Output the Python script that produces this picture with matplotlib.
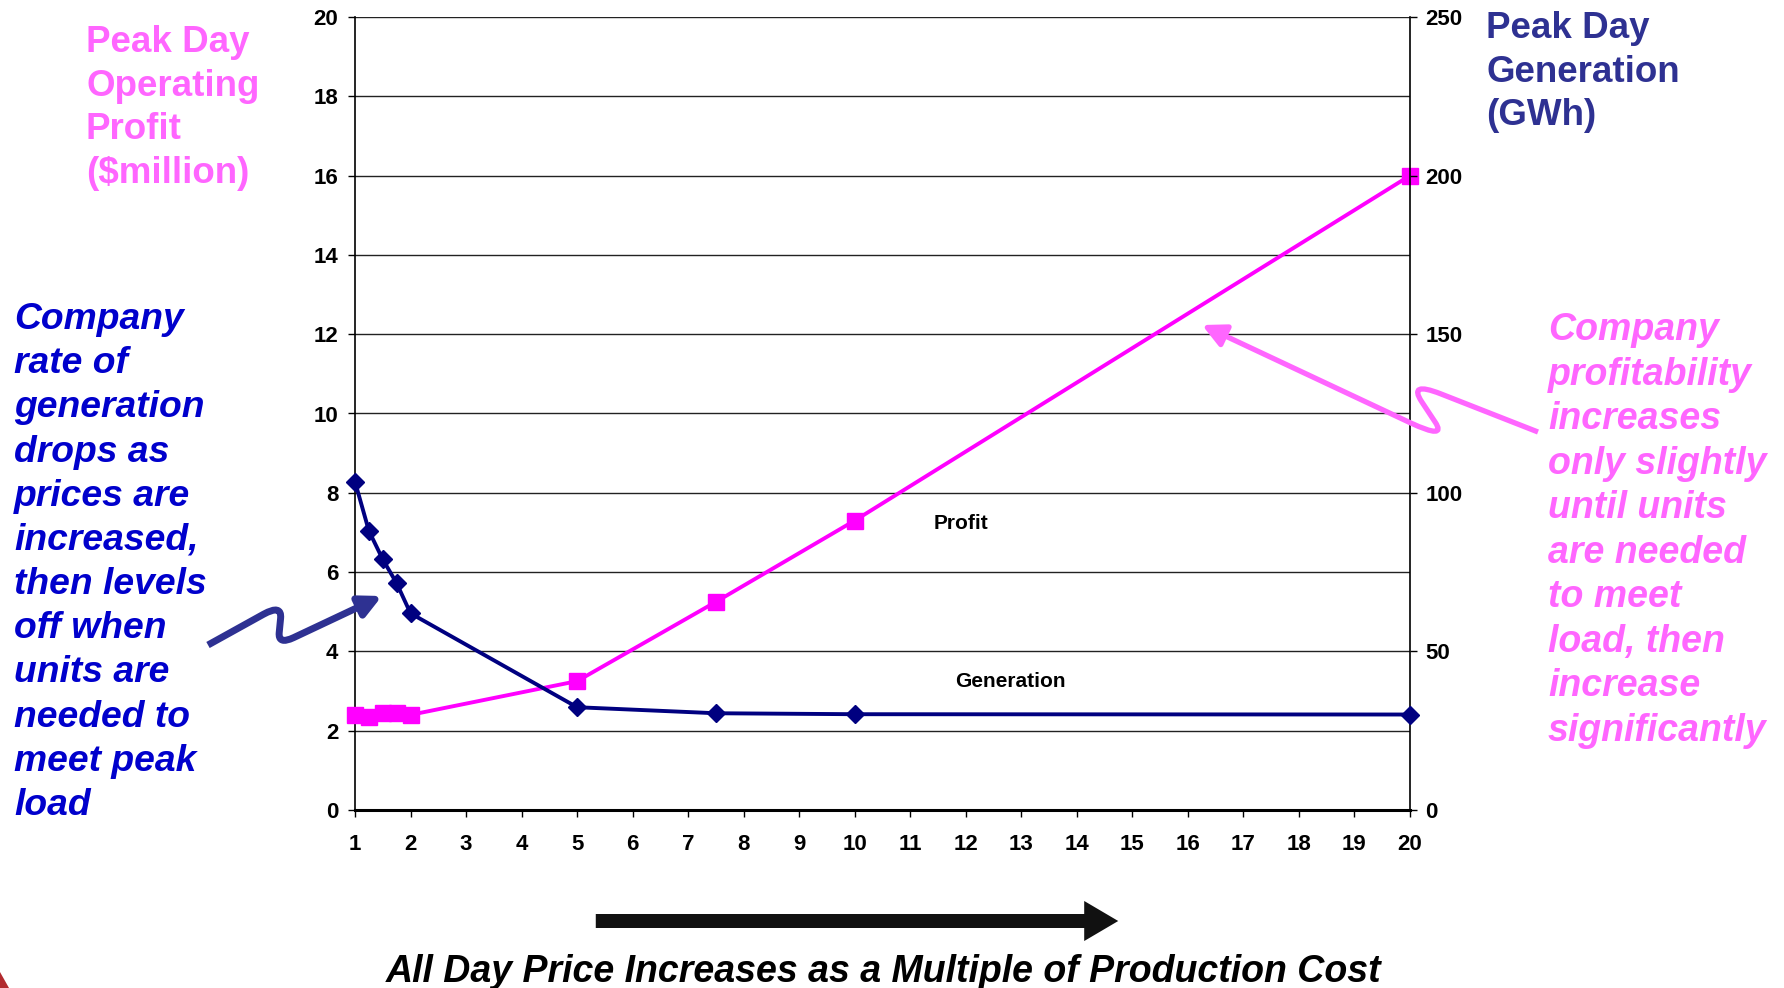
import matplotlib
matplotlib.use("Agg")
import matplotlib.pyplot as plt
from matplotlib.path import Path
from matplotlib.patches import FancyArrowPatch, Polygon
import matplotlib.transforms as mtransforms

# Data
price_multiple = [1, 1.25, 1.5, 1.75, 2, 5, 7.5, 10, 20]
profit = [2.4, 2.35, 2.45, 2.45, 2.4, 3.25, 5.25, 7.3, 16.0]          # $million (left axis)
generation = [103.5, 88, 79, 71.5, 62, 32.4, 30.5, 30.2, 30.1]      # GWh (right axis)

x_ticks = list(range(1, 21))
profit_ticks = list(range(0, 21, 2))
gen_ticks = list(range(0, 251, 50))

W, H = 1784, 988
PINK = '#FF00FF'
PINK_TEXT = '#FF66FF'
NAVY = '#000080'
BLUE_TEXT = '#0000CC'
DARK_BLUE = '#2E3192'

plt.rcParams['font.family'] = ['Liberation Sans', 'DejaVu Sans']

fig = plt.figure(figsize=(W / 100, H / 100), dpi=100)
ax = fig.add_axes([355 / W, 1 - 810 / H, (1410 - 355) / W, (810 - 17) / H])
ax2 = ax.twinx()

# pixel coords (top-left origin) -> figure coords
pix = mtransforms.Affine2D().scale(1 / W, -1 / H).translate(0, 1) + fig.transFigure

# Profit on left axis
ax.plot(price_multiple, profit, color=PINK, lw=2.8, marker='s', markersize=11,
        markerfacecolor=PINK, markeredgecolor=PINK, zorder=3, clip_on=False)
ax.set_xlim(1, 20)
ax.set_ylim(0, 20)
ax.set_xticks(x_ticks)
ax.set_yticks(profit_ticks)
ax.grid(True, axis='y', color='#222222', lw=1.0)
ax.set_axisbelow(True)
for s in ['top', 'right']:
    ax.spines[s].set_visible(False)
ax.spines['left'].set_linewidth(1.2)
ax.spines['bottom'].set_linewidth(2.2)
ax.tick_params(axis='y', direction='out', length=5, width=1, pad=7, labelsize=16)
ax.tick_params(axis='x', direction='out', length=5, width=1, pad=12, labelsize=16)
for lab in ax.get_xticklabels() + ax.get_yticklabels():
    lab.set_fontweight('bold')

# Generation on right axis
ax2.plot(price_multiple, generation, color=NAVY, lw=2.8, marker='D', markersize=9.5,
         markerfacecolor=NAVY, markeredgecolor=NAVY, zorder=3, clip_on=False)
ax2.set_ylim(0, 250)
ax2.set_yticks(gen_ticks)
for s in ['top', 'left', 'bottom']:
    ax2.spines[s].set_visible(False)
ax2.spines['right'].set_linewidth(1.2)
ax2.tick_params(axis='y', direction='out', length=5, width=1, pad=6, labelsize=16)
for lab in ax2.get_yticklabels():
    lab.set_fontweight('bold')

# Series labels inside the plot
ax.text(11.92, 7.22, 'Profit', fontsize=15, fontweight='bold', ha='center', va='center')
ax.text(12.8, 3.25, 'Generation', fontsize=15, fontweight='bold', ha='center', va='center')

# Axis titles
fig.text(86, 25, 'Peak Day\nOperating\nProfit\n($million)', transform=pix, color=PINK_TEXT,
         fontsize=26.5, fontweight='bold', ha='left', va='top', linespacing=1.32)
fig.text(1486, 11, 'Peak Day\nGeneration\n(GWh)', transform=pix, color=DARK_BLUE,
         fontsize=26.5, fontweight='bold', ha='left', va='top', linespacing=1.32)

# Side annotations
fig.text(14, 302, 'Company\nrate of\ngeneration\ndrops as\nprices are\nincreased,\nthen levels\n'
         'off when\nunits are\nneeded to\nmeet peak\nload', transform=pix, color=BLUE_TEXT,
         fontsize=26.8, fontweight='bold', style='italic', ha='left', va='top', linespacing=1.34)
fig.text(1548, 312, 'Company\nprofitability\nincreases\nonly slightly\nuntil units\nare needed\n'
         'to meet\nload, then\nincrease\nsignificantly', transform=pix, color=PINK_TEXT,
         fontsize=27, fontweight='bold', style='italic', ha='left', va='top', linespacing=1.305)

# Bottom caption with arrow
fig.text(884, 972, 'All Day Price Increases as a Multiple of Production Cost', transform=pix,
         fontsize=27, fontweight='bold', style='italic', ha='center', va='center')
big = FancyArrowPatch((593, 921), (1121, 921), transform=pix,
                      arrowstyle='simple,head_length=1.75,head_width=2.06,tail_width=0.72',
                      mutation_scale=14, color='#111111', lw=0)
fig.add_artist(big)


def squiggle(a, b, c, d, color, lw, head):
    # lightning-bolt shaped arrow with rounded corners, pixel coords
    def towards(p, q, f):
        return (p[0] + (q[0] - p[0]) * f, p[1] + (q[1] - p[1]) * f)
    verts = [a, towards(b, a, 0.25), b, towards(b, c, 0.35),
             towards(c, b, 0.3), c, towards(c, d, 0.15), d]
    codes = [Path.MOVETO, Path.LINETO, Path.CURVE3, Path.CURVE3,
             Path.LINETO, Path.CURVE3, Path.CURVE3, Path.LINETO]
    arr = FancyArrowPatch(path=Path(verts, codes), transform=pix,
                          arrowstyle='-|>,head_length=%f,head_width=%f' % (head, head * 0.5),
                          mutation_scale=1, color=color, lw=lw, capstyle='butt', joinstyle='round')
    fig.add_artist(arr)


squiggle((208, 645), (282, 604), (278, 645), (382, 596), DARK_BLUE, 5, 13)
squiggle((1538, 432), (1408, 381), (1447, 440), (1202, 325), PINK_TEXT, 3.8, 14)

# slide decoration in the corner
fig.add_artist(Polygon([(0, 972), (0, 988), (9, 988)], closed=True, transform=pix,
                       color='#B22A2E', lw=0))

fig.savefig('out.png', dpi=100)
